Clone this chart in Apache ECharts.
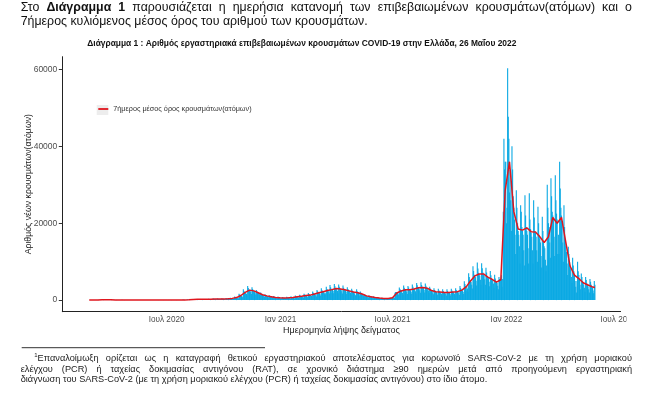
<!DOCTYPE html>
<html>
<head>
<meta charset="utf-8">
<script src="https://cdn.jsdelivr.net/npm/echarts@6/dist/echarts.min.js"></script>
<style>html,body{margin:0;padding:0;background:#fff}#c{width:650px;height:396px}</style>
</head>
<body>
<div id="c"></div>
<script>
// ---------------- DATA ----------------
const axisStart = '2020-01-15';   // first day of the x range
const axisDays = 902;             // number of days on the x axis
const dataStart = '2020-02-24';   // first day of daily values (Monday)
// daily confirmed cases by sampling date, one row per week (Mon..Sun)
const dailyCases = [
0,0,1,1,1,4,0,
1,2,2,22,15,20,12,
16,20,26,31,38,40,30,
60,70,65,78,80,60,45,
90,85,80,88,92,70,60,
95,90,75,70,80,60,55,
60,70,55,50,45,40,30,
45,50,40,35,30,25,20,
90,40,35,30,25,20,15,
20,18,15,12,10,8,6,
12,10,8,10,9,6,5,
12,10,9,8,10,6,4,
10,8,7,9,8,6,4,
9,10,8,7,8,5,3,
12,10,9,11,10,7,5,
14,12,10,12,11,8,6,
20,18,16,17,15,12,8,
25,22,20,18,17,14,10,
20,18,17,16,15,12,9,
30,28,25,24,22,18,14,
32,30,27,25,24,20,15,
45,42,38,36,34,28,20,
75,70,65,62,60,50,38,
140,130,115,110,105,90,70,
250,215,190,180,170,145,110,
300,265,235,220,210,180,130,
290,250,220,210,200,170,130,
280,240,210,200,190,160,120,
350,300,265,250,240,200,150,
390,335,295,280,265,225,170,
420,360,315,300,285,240,180,
450,385,335,320,305,255,190,
520,445,390,370,350,295,220,
630,540,470,450,430,360,270,
910,780,680,650,620,520,390,
1680,1440,1260,1200,1140,960,720,
2800,2400,2100,2000,1900,1600,1200,
3640,3120,2730,2600,2470,2080,1560,
3360,2880,2520,2400,2280,1920,1440,
2660,2280,2000,1900,1800,1520,1140,
1960,1680,1470,1400,1330,1120,840,
1540,1320,1155,1100,1045,880,660,
1260,1080,945,900,855,720,540,
1050,900,790,700,450,620,500,
910,780,680,650,380,520,400,
840,720,420,600,570,480,360,
870,745,650,620,590,495,370,
980,840,735,700,665,560,420,
1190,1020,895,850,810,680,510,
1400,1200,1050,1000,950,800,600,
1680,1440,1260,1200,1140,960,720,
1820,1560,1365,1300,1235,1040,780,
2240,1920,1680,1600,1520,1280,960,
2660,2280,2000,1900,1800,1520,1140,
3080,2640,2310,2200,2090,1760,1320,
1800,3500,2900,2700,2600,2200,1700,
3920,3360,2940,1900,2800,2400,1800,
4200,3600,3150,3000,2850,2400,1800,
4060,3480,3045,2900,2755,2320,1740,
3780,3240,2835,2700,2565,2160,1620,
3360,2880,2520,2400,2280,1920,1440,
2940,2520,2205,2100,1995,1680,1260,
1200,2800,2300,2100,1950,1650,1200,
2240,1920,1680,1600,1520,1280,960,
1540,1320,1155,1100,1045,880,660,
1260,1080,945,900,855,720,540,
980,840,735,700,665,560,420,
730,625,545,520,495,415,310,
590,505,440,420,400,335,250,
560,480,420,400,380,320,240,
550,600,620,650,700,720,560,
1900,2100,2100,2050,1900,1700,1300,
3300,2900,2600,2450,2300,1850,1350,
3780,3240,2835,2700,2565,2160,1620,
3700,3300,2800,2750,2550,2150,1650,
4060,3480,3045,2900,2755,2320,1740,
4480,3840,3360,3200,3040,2560,1920,
4620,3960,3465,3300,3135,2640,1980,
4340,3720,3255,3100,2945,2480,1860,
3500,3000,2625,2500,2375,2000,1500,
3080,2640,2310,2200,2090,1760,1320,
2940,2520,2205,2100,1995,1680,1260,
2800,2400,2100,2000,1900,1600,1200,
2850,2380,2120,1980,1920,1580,1170,
2940,2520,2205,2100,1995,1680,1260,
3080,2640,2310,2200,2090,1760,1320,
3640,3120,2730,2600,2470,2080,1560,
4900,4200,3700,2500,3600,3000,2200,
7000,6000,5250,5000,4750,4000,3000,
8820,7560,6615,6300,5985,5040,3780,
9800,8200,7100,6800,6400,5300,4000,
9600,8300,7200,6700,6400,5400,4000,
8400,7200,6300,6000,5700,4800,3600,
7560,6480,5670,5400,5130,4320,3240,
6580,5640,4935,4700,4465,3760,2820,
6000,5500,5000,5300,6500,3500,5500,
23000,42000,34000,36000,36000,20000,24000,
60300,47700,42000,28000,34000,26000,18000,
40000,34000,27000,24000,21000,17000,12000,
28600,24000,20000,18000,17000,14000,9500,
24700,23000,19000,18000,17000,13000,9000,
27300,22000,19000,18000,17000,13500,9500,
27800,21000,18500,17500,16500,13000,9500,
26000,21500,18000,17500,16500,13000,10000,
24300,20000,17000,16000,15000,11500,8500,
21700,18000,15000,14000,13500,10500,7500,
9000,30000,24000,20000,19000,15000,11000,
31700,27000,23000,22000,21000,16500,11500,
32500,26000,22500,21000,12000,17000,12000,
36000,29000,24000,22000,20000,15000,10000,
24700,19000,15500,14000,12500,9500,6500,
13900,12000,10000,9000,8000,6000,4500,
11000,9000,7500,6500,5000,3500,2000,
5000,10000,7500,6500,5500,4000,2800,
6900,6000,5000,4500,4000,3200,2200,
6000,5200,4300,4000,3600,2800,2000,
5500,4800,4000,3600,3300,2500,1800,
5000,4000
];
// 7-day rolling average read at each Thursday
const avg7Start = '2020-02-27';
const avg7 = [
1,11,29,65,81,75,50,35,36,13,
9,8,7,7,9,10,15,18,15,23,
25,35,60,109,180,220,210,200,250,280,
300,320,370,450,650,1200,2000,2600,2400,1900,
1400,1100,900,700,620,570,620,700,850,1000,
1200,1300,1600,1900,2200,2490,2730,3000,2900,2700,
2400,2100,1890,1600,1100,900,700,520,420,400,
630,1860,2390,2700,2700,2900,3200,3300,3100,2500,
2200,2100,2000,2000,2100,2200,2600,3440,5000,6300,
6800,6800,6000,5400,4700,5300,28500,36000,23000,18500,
18200,18800,17800,17700,16500,15000,16500,21500,20000,21500,
15000,8800,6500,5600,4500,4000,3500
];
const avg7Last = ['2022-05-24', 3300];
const tickDates = ['2020-07-01','2021-01-01','2021-07-01','2022-01-01','2022-07-01'];
const tickLabels = ['Ιουλ 2020','Ιαν 2021','Ιουλ 2021','Ιαν 2022','Ιουλ 2022'];
const yTicks = [0, 20000, 40000, 60000];
const yMin = -3015, yMax = 63315;
const seriesBarName = 'Ημερήσια κρούσματα';
const seriesLineName = '7ήμερος μέσος όρος κρουσμάτων(ατόμων)';
const introLine1 = ['Στο','Διάγραμμα','1','παρουσιάζεται','η','ημερήσια','κατανομή','των','επιβεβαιωμένων','κρουσμάτων(ατόμων)','και','ο'];
const introBold1 = [false,true,true,false,false,false,false,false,false,false,false,false];
const introLine2 = '7ήμερος κυλιόμενος μέσος όρος του αριθμού των κρουσμάτων.';
const chartTitle = 'Διάγραμμα 1 : Αριθμός εργαστηριακά επιβεβαιωμένων κρουσμάτων COVID-19 στην Ελλάδα, 26 Μαΐου 2022';
const xName = 'Ημερομηνία λήψης δείγματος';
const yName = 'Αριθμός νέων κρουσμάτων(ατόμων)';
const foot1 = 'Επαναλοίμωξη ορίζεται ως η καταγραφή θετικού εργαστηριακού αποτελέσματος για κορωνοϊό SARS-CoV-2 με τη χρήση μοριακού';
const foot2 = 'ελέγχου (PCR) ή ταχείας δοκιμασίας αντιγόνου (RAT), σε χρονικό διάστημα ≥90 ημερών μετά από προηγούμενη εργαστηριακή';
const foot3 = 'διάγνωση του SARS-CoV-2 (με τη χρήση μοριακού ελέγχου (PCR) ή ταχείας δοκιμασίας αντιγόνου) στο ίδιο άτομο.';

// ---------------- HELPERS ----------------
function addDays(s, n) {
  const d = new Date(s + 'T00:00:00Z');
  d.setUTCDate(d.getUTCDate() + n);
  return d.toISOString().slice(0, 10);
}
const FONT = '"Liberation Sans", Arial, sans-serif';
const mctx = document.createElement('canvas').getContext('2d');
function tw(text, size, bold) { mctx.font = (bold ? 'bold ' : '') + size + 'px ' + FONT; return mctx.measureText(text).width; }
function fitSize(text, width, bold) { return 10 * width / tw(text, 10, bold); }
function txt(x, y, text, size, bold, color, sx) {
  return {
    type: 'text', x: x, y: y, silent: true, scaleX: sx || 1,
    style: { text: text, font: (bold ? 'bold ' : '') + size + 'px ' + FONT, fill: color,
             textAlign: 'left', textVerticalAlign: 'middle', align: 'left', verticalAlign: 'middle' }
  };
}
function justify(words, bolds, x0, x1, y, size, color, sx) {
  sx = sx || 1;
  const ws = words.map((w, i) => tw(w, size, bolds[i]) * sx);
  const gap = (x1 - x0 - ws.reduce((a, b) => a + b, 0)) / (words.length - 1);
  const out = []; let x = x0;
  words.forEach((w, i) => { out.push(txt(x, y, w, size, bolds[i], color, sx)); x += ws[i] + gap; });
  return out;
}

// ---------------- BUILD ----------------
const categories = [];
for (let i = 0; i < axisDays; i++) categories.push(addDays(axisStart, i));
const barData = dailyCases.map((v, i) => [addDays(dataStart, i), v]);
const lineData = avg7.map((v, i) => [addDays(avg7Start, 7 * i), v]);
lineData.push(avg7Last);
const isTick = (idx, val) => tickDates.indexOf(val) >= 0;

// text sizes: font height from the picture, horizontal scale to match measured widths
const introSize = 12.6;
const introSx = 347 / tw(introLine2, introSize, false);
const footSize = 9.8;
const footSx = 466.5 / tw(foot3, footSize, false);
const titleSize = fitSize(chartTitle, 429.7, true);
const legendSize = fitSize(seriesLineName, 138.4, false);
const xNameSize = fitSize(xName, 116.7, false);
const yNameSize = fitSize(yName, 140.5, false);
const f1 = foot1.split(' '), f2 = foot2.split(' ');

const graphics = [].concat(
  justify(introLine1, introBold1, 20.7, 632, 7.4, introSize, '#111', introSx),
  [txt(20.7, 21.4, introLine2, introSize, false, '#111', introSx)],
  [txt(87.3, 43.6, chartTitle, titleSize, true, '#111')],
  [{ type: 'rect', silent: true, shape: { x: 96.7, y: 105, width: 11.6, height: 10 }, style: { fill: '#EDEDED' } }],
  [{ type: 'line', silent: true, shape: { x1: 21.7, y1: 347.7, x2: 265, y2: 347.7 }, style: { stroke: '#333', lineWidth: 1 } }],
  [txt(34.3, 355.0, '1', 6, false, '#222')],
  justify(f1, f1.map(() => false), 37.6, 632, 358.6, footSize, '#222', footSx),
  justify(f2, f2.map(() => false), 20.7, 632, 369.1, footSize, '#222', footSx),
  [txt(20.7, 379.6, foot3, footSize, false, '#222', footSx)],
  [{ type: 'rect', silent: true, z: 100, shape: { x: 626.5, y: 313, width: 24, height: 14 }, style: { fill: '#ffffff' } }]
);

const chart = echarts.init(document.getElementById('c'), null, { renderer: 'canvas' });
chart.setOption({
  animation: false,
  backgroundColor: '#ffffff',
  textStyle: { fontFamily: FONT },
  grid: { left: 62.3, right: 29.4, top: 56.7, bottom: 84.3, containLabel: false, outerBoundsMode: 'none' },
  legend: {
    data: [{ name: seriesLineName, icon: 'rect' }],
    left: 98.3, top: 105.5, padding: 0,
    itemWidth: 10, itemHeight: 1.8,
    textStyle: { fontSize: legendSize, color: '#333', fontFamily: FONT },
    selectedMode: false
  },
  xAxis: {
    type: 'category', data: categories, boundaryGap: true,
    axisLine: { onZero: false, lineStyle: { color: '#222', width: 1 } },
    axisTick: { alignWithLabel: true, interval: isTick, length: 3.5, lineStyle: { color: '#333', width: 1 } },
    axisLabel: { interval: isTick, formatter: v => tickLabels[tickDates.indexOf(v)], color: '#4d4d4d', fontSize: 8.2, margin: 4, fontFamily: FONT },
    splitLine: { show: false },
    name: xName, nameLocation: 'middle', nameGap: 14, nameMoveOverlap: false,
    nameTextStyle: { fontSize: xNameSize, color: '#1a1a1a', fontFamily: FONT }
  },
  yAxis: {
    type: 'value', min: yMin, max: yMax,
    axisLine: { show: true, lineStyle: { color: '#222', width: 1 } },
    axisTick: { show: true, customValues: yTicks, length: 3.5, lineStyle: { color: '#333', width: 1 } },
    axisLabel: { customValues: yTicks, formatter: v => String(v), color: '#4d4d4d', fontSize: 8.5, margin: 5, fontFamily: FONT },
    splitLine: { show: false },
    name: yName, nameLocation: 'middle', nameRotate: 90, nameGap: 29, nameMoveOverlap: false,
    nameTextStyle: { fontSize: yNameSize, color: '#1a1a1a', fontFamily: FONT }
  },
  series: [
    { name: seriesBarName, type: 'bar', data: barData, barWidth: 1.1, itemStyle: { color: '#0BA9E3' }, z: 2, large: false },
    { name: seriesLineName, type: 'line', data: lineData, showSymbol: false, symbol: 'none',
      lineStyle: { color: '#E0161E', width: 1.5 }, itemStyle: { color: '#E0161E' }, z: 3 }
  ],
  graphic: graphics
});
</script>
</body>
</html>
